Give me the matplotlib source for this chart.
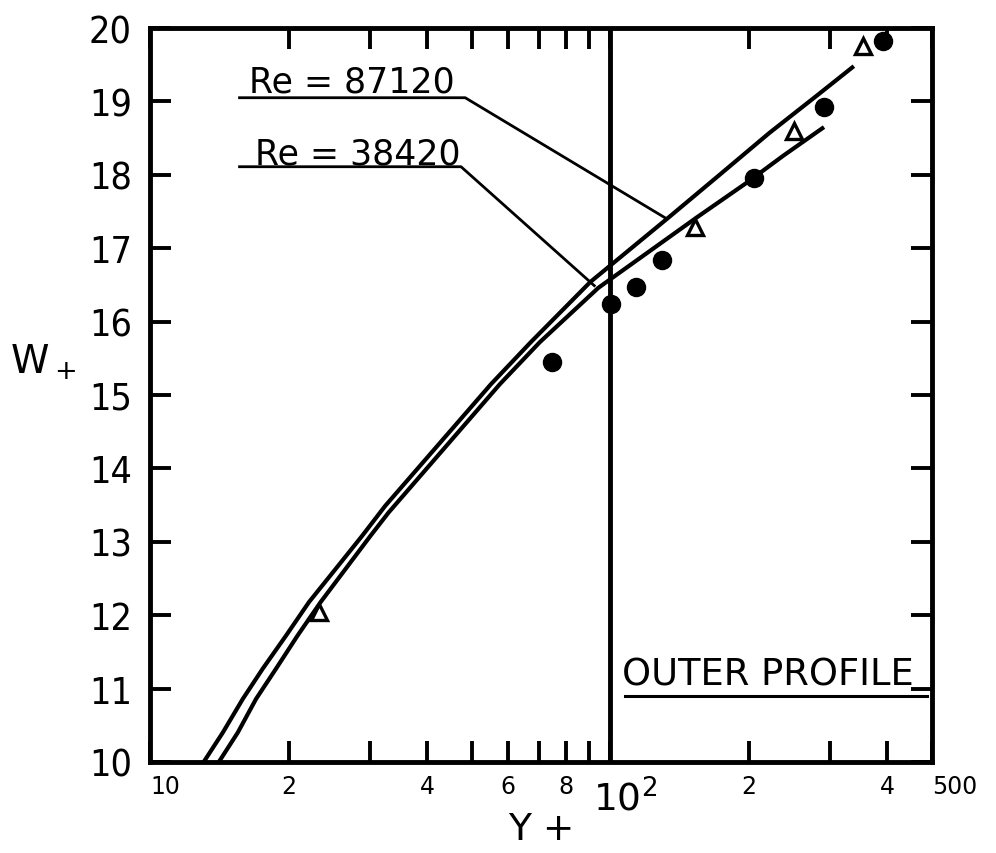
import matplotlib
matplotlib.use("Agg")
import matplotlib.pyplot as plt
import matplotlib.transforms as mtransforms

# ---- data ----
re87120_y = [13.08, 14.39, 15.91, 17.57, 19.74, 22.16, 25.31, 28.89, 32.44, 55.1, 67.2,
             90.5, 132.8, 172.8, 221.6, 279.9, 338.2]
re87120_w = [10.0, 10.40, 10.86, 11.27, 11.72, 12.18, 12.63, 13.08, 13.49, 15.15, 15.72,
             16.54, 17.40, 18.00, 18.57, 19.07, 19.48]

re38420_y = [14.11, 15.51, 17.0, 18.78, 20.91, 23.49, 26.60, 30.12, 33.0, 57.6, 70.3,
             94.2, 154.2, 197.7, 237.6, 291.3]
re38420_w = [10.0, 10.40, 10.86, 11.27, 11.72, 12.18, 12.63, 13.08, 13.40, 15.15, 15.72,
             16.46, 17.42, 17.89, 18.26, 18.65]

circle_y = [74.6, 100.5, 113.7, 129.4, 205.6, 291, 391]
circle_w = [15.45, 16.24, 16.47, 16.84, 17.95, 18.92, 19.82]

triangle_y = [23.3, 152.6, 250.9, 353.8]
triangle_w = [12.04, 17.29, 18.60, 19.75]

xtick_vals = [10, 20, 30, 40, 50, 60, 70, 80, 90, 100, 200, 300, 400, 500]
xtick_labels = ["10", "2", "", "4", "", "6", "", "8", "", "$\\mathregular{10^2}$", "2", "", "4", "500"]
ytick_vals = [10, 11, 12, 13, 14, 15, 16, 17, 18, 19, 20]
ytick_labels = ["10", "11", "12", "13", "14", "15", "16", "17", "18", "19", "20"]

label_hi = "Re = 87120"
label_lo = "Re = 38420"
outer_label = "OUTER PROFILE"

plt.rcParams["font.family"] = ["DejaVu Sans"]

fig = plt.figure(figsize=(9.96, 8.54), dpi=100)
ax = fig.add_axes([150 / 996, 91 / 854, 782 / 996, 734 / 854])
ax.set_xscale("log")
ax.set_xlim(10, 500)
ax.set_ylim(10, 20)

# curves
ax.plot(re87120_y, re87120_w, color="black", lw=3.0, solid_capstyle="butt", zorder=3)
ax.plot(re38420_y, re38420_w, color="black", lw=3.0, solid_capstyle="butt", zorder=3)

# data points
ax.plot(circle_y, circle_w, "o", color="black", ms=13, zorder=4, clip_on=False)
ax.plot(triangle_y, triangle_w, "^", mfc="white", mec="black", mew=2.4, ms=12, zorder=4, clip_on=False)

# vertical divider at 10^2
ax.axvline(100, color="black", lw=3.5, zorder=2)

# labels with underline and leader lines
ax.text(16.4, 19.13, label_hi, fontsize=25, ha="left", va="baseline")
ax.plot([15.65, 48.4, 132.7], [19.05, 19.05, 17.40], color="black", lw=2.0, zorder=2)
ax.text(16.9, 18.16, label_lo, fontsize=25, ha="left", va="baseline")
ax.plot([15.65, 47.4, 92.3], [18.11, 18.11, 16.49], color="black", lw=2.0, zorder=2)

ax.text(106.2, 11.05, outer_label, fontsize=26.5, ha="left", va="baseline")
ax.plot([107.8, 487], [10.90, 10.90], color="black", lw=2.2, zorder=2)

# spines
for s in ax.spines.values():
    s.set_linewidth(3.5)

# ticks
ax.set_xticks(xtick_vals)
ax.set_xticklabels(xtick_labels)
ax.xaxis.set_minor_locator(matplotlib.ticker.NullLocator())
ax.set_yticks(ytick_vals)
ax.set_yticklabels(ytick_labels)
ax.tick_params(axis="x", which="major", direction="in", length=15, width=2.8,
               top=True, bottom=True, pad=9, labelsize=17)
ax.tick_params(axis="y", which="major", direction="in", length=15, width=2.8,
               left=True, right=True, pad=13, labelsize=27)
for t in ax.get_yticklabels():
    t.set_fontstretch("condensed")

xl = ax.get_xticklabels()
xl[0].set_ha("left")
xl[-1].set_ha("left")
xl[9].set_fontsize(27)
xl[9].set_transform(xl[9].get_transform() + mtransforms.ScaledTranslation(15 / 100, -5 / 100, fig.dpi_scale_trans))

# axis titles
fig.text(43 / 996, 1 - 362 / 854, "$\\mathregular{W_+}$", fontsize=28, ha="center", va="center")
fig.text(541 / 996, 1 - 830 / 854, "Y +", fontsize=27, ha="center", va="center")

fig.savefig("out.png", dpi=100)
